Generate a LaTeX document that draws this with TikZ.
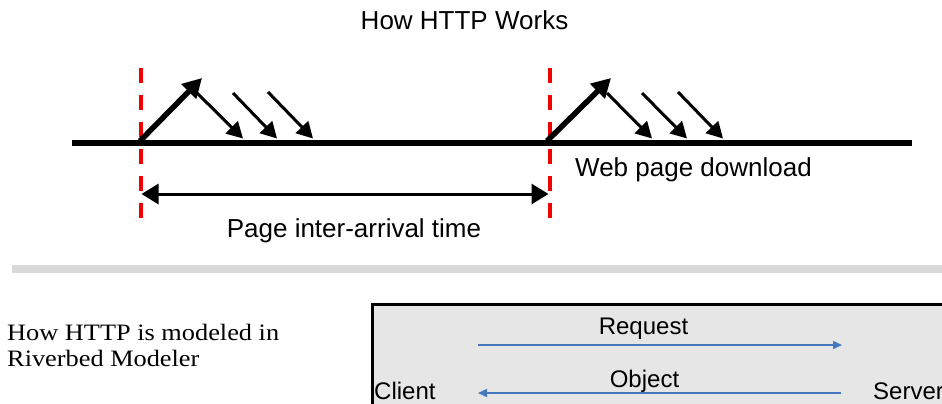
\documentclass[tikz,border=0pt]{standalone}
\usepackage{fontspec}
\usetikzlibrary{arrows.meta}
\newfontfamily\labsans{Liberation Sans}
\newfontfamily\labserif{Liberation Serif}
\definecolor{sepgray}{HTML}{D9D9D9}
\definecolor{boxgray}{HTML}{E6E6E6}
\definecolor{flowblue}{RGB}{70,120,190}
\definecolor{markred}{RGB}{240,0,0}
\tikzset{
  bigsans/.style={inner sep=0pt, anchor=base, font=\labsans\fontsize{26}{30}\selectfont},
  boxsans/.style={inner sep=0pt, anchor=base, font=\labsans\fontsize{24}{28}\selectfont},
  timeline/.style={line width=6pt},
  marker/.style={line width=3.5pt, markred, dash pattern=on 15pt off 12pt},
  reqarrow/.style={line width=5.5pt, -{Triangle[length=19pt,width=20pt]}},
  resparrow/.style={line width=3pt, -{Triangle[length=16pt,width=17pt]}},
  spanarrow/.style={line width=3pt, {Triangle[length=17pt,width=20pt]}-{Triangle[length=17pt,width=20pt]}},
  flow/.style={line width=1.6pt, flowblue, -{Triangle[length=9pt,width=8pt]}},
}
\begin{document}
\begin{tikzpicture}[x=1pt,y=-1pt]
\useasboundingbox (0,0) rectangle (942,404);
\clip (0,0) rectangle (942,404);

% title
\node[bigsans] (title) at (464.5,30) {How HTTP Works};

% timeline
\coordinate (tlL) at (72,143);
\coordinate (tlR) at (912,143);
\draw[timeline] (tlL) -- (tlR);

% red page markers
\coordinate (m1t) at (141,68); \coordinate (m1b) at (141,221);
\coordinate (m2t) at (550,68); \coordinate (m2b) at (550,221);
\draw[marker] (m1t) -- (m1b);
\draw[marker] (m2t) -- (m2b);

% first page: request and responses
\coordinate (a1s) at (140,141); \coordinate (a1e) at (202,78);
\draw[reqarrow] (a1s) -- (a1e);
\coordinate (r11s) at (197,93); \coordinate (r11e) at (243,138.5);
\coordinate (r12s) at (233,93); \coordinate (r12e) at (277,138.5);
\coordinate (r13s) at (268,92); \coordinate (r13e) at (313,138.5);
\draw[resparrow] (r11s) -- (r11e);
\draw[resparrow] (r12s) -- (r12e);
\draw[resparrow] (r13s) -- (r13e);

% second page: request and responses
\coordinate (a2s) at (547,141); \coordinate (a2e) at (611,78);
\draw[reqarrow] (a2s) -- (a2e);
\coordinate (r21s) at (607,93); \coordinate (r21e) at (652,138.5);
\coordinate (r22s) at (642,93); \coordinate (r22e) at (687,138.5);
\coordinate (r23s) at (678,92); \coordinate (r23e) at (723,138.5);
\draw[resparrow] (r21s) -- (r21e);
\draw[resparrow] (r22s) -- (r22e);
\draw[resparrow] (r23s) -- (r23e);

% labels
\node[bigsans, anchor=base west] (dl) at (575,176) {Web page download};
\coordinate (spL) at (141.5,194); \coordinate (spR) at (548.5,194);
\draw[spanarrow] (spL) -- (spR);
\node[bigsans] (iat) at (354,237) {Page inter-arrival time};

% separator
\node[fill=sepgray, inner sep=0pt, minimum width=930pt, minimum height=7.5pt, anchor=north west] (sep) at (12,265) {};

% model text
\node[inner sep=0pt, anchor=base west, font=\labserif\fontsize{23.5}{26}\selectfont] (m1) at (7,340) {\scalebox{1.12}[1]{How HTTP is modeled in}};
\node[inner sep=0pt, anchor=base west, font=\labserif\fontsize{23.5}{26}\selectfont] (m2) at (7,366) {\scalebox{1.12}[1]{Riverbed Modeler}};

% model box
\node[fill=boxgray, draw=black, line width=2.5pt, inner sep=0pt, minimum width=600pt, minimum height=120pt, anchor=north west] (box) at (371,303) {};
\node[boxsans] (req) at (643.5,334) {Request};
\node[boxsans] (obj) at (644.5,387) {Object};
\node[boxsans, anchor=base west] (client) at (374,399.5) {Client};
\node[boxsans, anchor=base west] (server) at (873,399.5) {Server};
\coordinate (rqs) at (478,345); \coordinate (rqe) at (842,345);
\coordinate (obs) at (841,393); \coordinate (obe) at (478,393);
\draw[flow] (rqs) -- (rqe);
\draw[flow] (obs) -- (obe);
\end{tikzpicture}
\end{document}
